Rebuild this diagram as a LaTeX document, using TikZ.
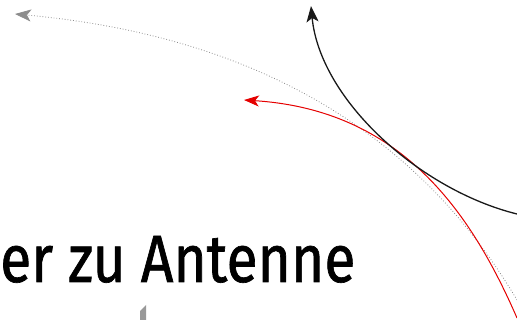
\documentclass[tikz,border=0pt]{standalone}
\usepackage{fontspec}
\setmainfont{Fira Sans}
\newfontfamily\labfont[FakeStretch=0.85,FakeBold=1]{Fira Sans}
\usetikzlibrary{arrows.meta}
\begin{document}
\begin{tikzpicture}[x=1pt,y=-1pt,
  blackarrow/.style={draw=black!90,line width=1.3pt,-{Stealth[length=16pt,width=12pt,inset=4pt]}},
  redarrow/.style={draw=red!90!black,line width=1pt,-{Stealth[length=15pt,width=11pt,inset=4pt]}},
  grayarrow/.style={draw=black!45,line width=0.8pt,dotted,-{Stealth[length=16pt,width=12pt,inset=4pt,fill=black!45]}},
  label/.style={inner sep=0pt,anchor=base west,font=\labfont\fontsize{67}{70}\selectfont}]
\useasboundingbox (0,0) rectangle (517,320);
\coordinate (bs) at (517,214);
\coordinate (be) at (311,6);
\coordinate (rs) at (517,318);
\coordinate (re) at (244,100);
\coordinate (gs) at (517,300);
\coordinate (ge) at (15,14);
\draw[grayarrow] (gs) .. controls (440,170) and (300,40) .. (ge);
\draw[redarrow] (rs) .. controls (470,210) and (400,110) .. (re);
\draw[blackarrow] (bs) .. controls (420,190) and (320,100) .. (be);
\node[label] (t) at (0,282) {er zu Antenne};
\fill[black!40] (140,320) -- (140,311) -- (146,305) -- (146,320) -- cycle;
\end{tikzpicture}
\end{document}
